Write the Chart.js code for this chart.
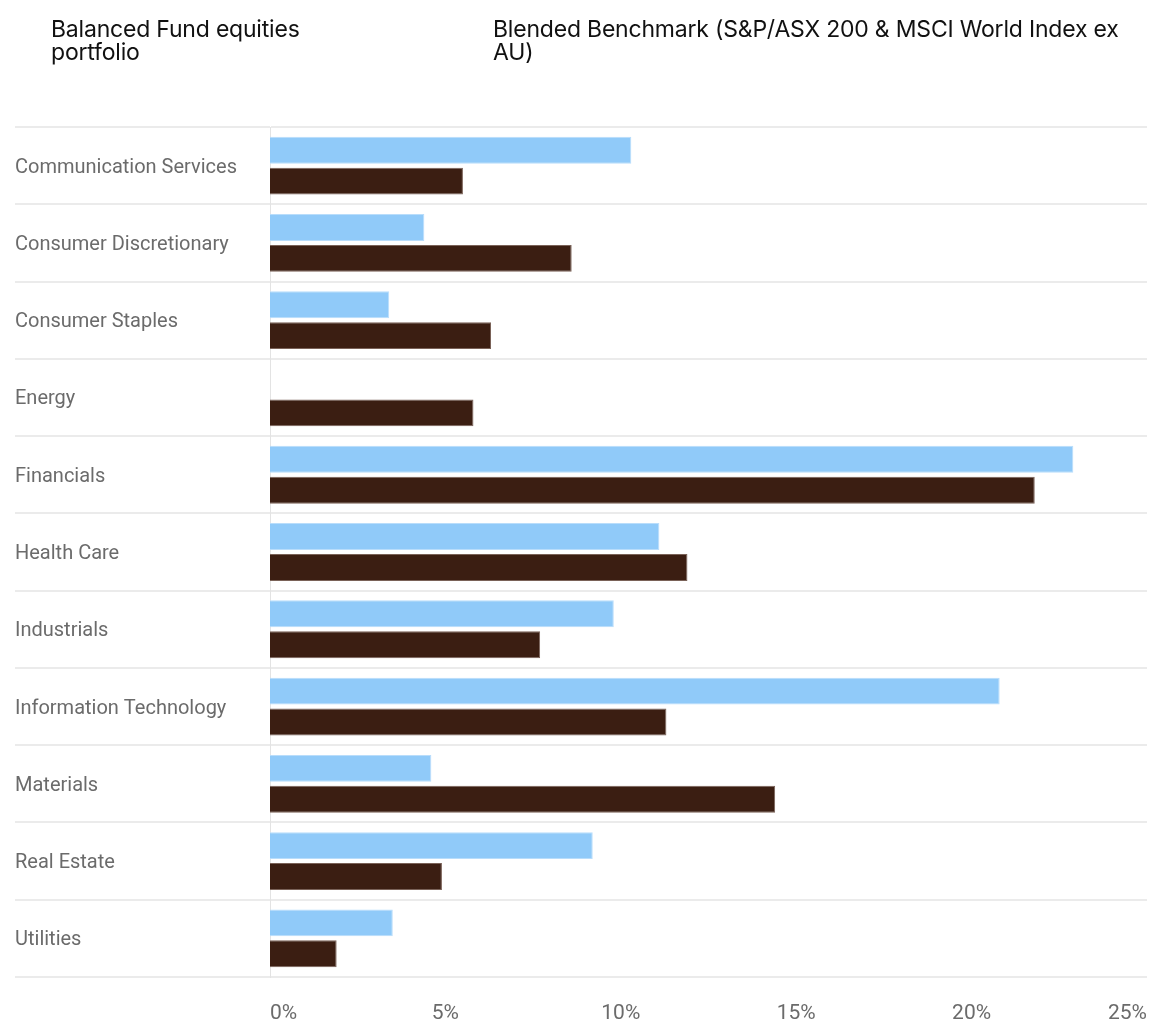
<!DOCTYPE html>
<html>
<head>
<meta charset="utf-8">
<script src="https://cdn.jsdelivr.net/npm/chart.js@4/dist/chart.umd.min.js"></script>
<style>
  body { margin: 0; background: #fff; }
  #wrap { position: relative; width: 1152px; height: 1023px; }
  .leg { position: absolute; top: 18px; font-family: Inter, sans-serif; font-size: 23px; line-height: 23px; color: #111; letter-spacing: -0.2px; }
</style>
</head>
<body>
<div id="wrap">
  <div class="leg" id="leg1" style="left:51px;"></div>
  <div class="leg" id="leg2" style="left:493px;"></div>
  <canvas id="chart" width="1152" height="1023"></canvas>
</div>
<script>
const categories = ['Communication Services', 'Consumer Discretionary', 'Consumer Staples', 'Energy',
  'Financials', 'Health Care', 'Industrials', 'Information Technology', 'Materials', 'Real Estate', 'Utilities'];
const fundValues = [10.3, 4.4, 3.4, 0, 22.9, 11.1, 9.8, 20.8, 4.6, 9.2, 3.5];
const benchmarkValues = [5.5, 8.6, 6.3, 5.8, 21.8, 11.9, 7.7, 11.3, 14.4, 4.9, 1.9];
const seriesNames = ['Balanced Fund equities portfolio', 'Blended Benchmark (S&P/ASX 200 & MSCI World Index ex AU)'];
const xTicks = [0, 5, 10, 15, 20, 25];

// legend as plain html, wrapped like the original
document.getElementById('leg1').innerHTML = 'Balanced Fund equities<br>portfolio';
document.getElementById('leg2').innerHTML = 'Blended Benchmark (S&amp;P/ASX 200 &amp; MSCI World Index ex<br>AU)';

const ctx = document.getElementById('chart').getContext('2d');
new Chart(ctx, {
  type: 'bar',
  data: {
    labels: categories,
    datasets: [{
      label: seriesNames[0],
      data: fundValues,
      backgroundColor: '#90caf9',
      borderColor: '#b9ddfb',
      borderWidth: 1,
      categoryPercentage: 0.8,
      barPercentage: 0.87
    }, {
      label: seriesNames[1],
      data: benchmarkValues,
      backgroundColor: '#3b1e12',
      borderColor: '#7a6258',
      borderWidth: 1,
      categoryPercentage: 0.8,
      barPercentage: 0.87
    }]
  },
  options: {
    indexAxis: 'y',
    responsive: false,
    animation: false,
    layout: { padding: { left: 15, right: 5, top: 127, bottom: 0 } },
    plugins: {
      legend: { display: false },
      tooltip: { enabled: false }
    },
    scales: {
      x: {
        min: 0,
        max: 25,
        afterBuildTicks: (axis) => { axis.ticks = xTicks.map(v => ({ value: v })); },
        afterFit: (axis) => { axis.paddingLeft = 0; axis.paddingRight = 0; axis.height = 46; },
        grid: { display: false, drawTicks: false },
        border: { display: false },
        ticks: {
          align: 'inner',
          padding: 24,
          color: '#6b6b6b',
          font: { family: 'Roboto', size: 21 },
          callback: (v) => v + '%'
        }
      },
      y: {
        afterFit: (axis) => { axis.width = 255; axis.paddingTop = 0; axis.paddingBottom = 0; },
        grid: {
          color: '#ebebeb',
          lineWidth: 2,
          tickLength: 255,
          offset: true
        },
        border: { display: true, color: '#e3e3e3', width: 1 },
        ticks: {
          crossAlign: 'far',
          labelOffset: 2,
          color: '#6b6b6b',
          font: { family: 'Roboto', size: 20 }
        }
      }
    }
  }
});
</script>
</body>
</html>
